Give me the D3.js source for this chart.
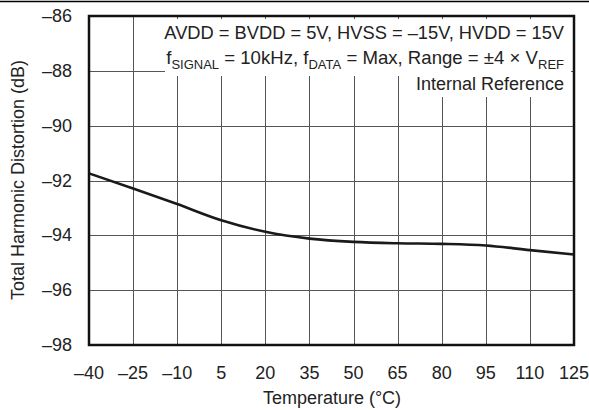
<!DOCTYPE html>
<html>
<head>
<meta charset="utf-8">
<script src="https://cdn.jsdelivr.net/npm/d3@7"></script>
<style>
  body { margin: 0; background: #fff; }
  svg { display: block; font-family: "Liberation Sans", Arial, sans-serif; }
</style>
</head>
<body>
<svg id="svg" width="589" height="410"></svg>
<script>
// temperature (°C) and THD (dB)
var temps = [-40, -25, -10, 5, 20, 35, 50, 65, 80, 95, 110, 125];
var thd = [-91.74, -92.29, -92.86, -93.45, -93.87, -94.12, -94.24, -94.29, -94.31, -94.37, -94.54, -94.70];
var xTicks = [-40, -25, -10, 5, 20, 35, 50, 65, 80, 95, 110, 125];
var yTicks = [-86, -88, -90, -92, -94, -96, -98];

var plotL = 89, plotR = 574, plotT = 16, plotB = 345;
var fs = 18;
var fmt = function(d) { return String(d).replace("-", "\u2013"); };

var svg = d3.select("svg");

var x = d3.scaleLinear().domain([-40, 125]).range([plotL, plotR]);
var y = d3.scaleLinear().domain([-98, -86]).range([plotB, plotT]);

// rule at the very top
svg.append("line")
    .attr("x1", 0).attr("x2", 589)
    .attr("y1", 1.5).attr("y2", 1.5)
    .attr("stroke", "#000").attr("stroke-width", 1.5);

// grid
svg.append("g").selectAll("line")
    .data(xTicks.slice(1, -1))
    .enter().append("line")
    .attr("x1", function(d) { return Math.round(x(d)) + 0.5; })
    .attr("x2", function(d) { return Math.round(x(d)) + 0.5; })
    .attr("y1", plotT).attr("y2", plotB)
    .attr("stroke", "#555").attr("stroke-width", 1);

svg.append("g").selectAll("line")
    .data(yTicks.slice(1, -1))
    .enter().append("line")
    .attr("y1", function(d) { return Math.round(y(d)) + 0.5; })
    .attr("y2", function(d) { return Math.round(y(d)) + 0.5; })
    .attr("x1", plotL).attr("x2", plotR)
    .attr("stroke", "#555").attr("stroke-width", 1);

// white boxes behind the conditions text
svg.append("rect").attr("x", 165).attr("y", 19).attr("width", plotR - 3 - 165).attr("height", 57).attr("fill", "#fff");
svg.append("rect").attr("x", 405).attr("y", 75).attr("width", plotR - 3 - 405).attr("height", 22).attr("fill", "#fff");

// curve
var line = d3.line()
    .x(function(d, i) { return x(temps[i]); })
    .y(function(d) { return y(d); })
    .curve(d3.curveMonotoneX);

svg.append("path")
    .datum(thd)
    .attr("d", line)
    .attr("fill", "none")
    .attr("stroke", "#1a1a1a")
    .attr("stroke-width", 2.6);

// frame
svg.append("rect")
    .attr("x", plotL).attr("y", plotT)
    .attr("width", plotR - plotL).attr("height", plotB - plotT)
    .attr("fill", "none").attr("stroke", "#111").attr("stroke-width", 2.5);

// tick labels
svg.append("g").selectAll("text")
    .data(yTicks)
    .enter().append("text")
    .attr("x", 72)
    .attr("y", function(d) { return y(d) + 6; })
    .attr("text-anchor", "end")
    .attr("font-size", fs)
    .attr("fill", "#222")
    .text(fmt);

svg.append("g").selectAll("text")
    .data(xTicks)
    .enter().append("text")
    .attr("x", function(d) { return x(d); })
    .attr("y", 379)
    .attr("text-anchor", "middle")
    .attr("font-size", fs)
    .attr("fill", "#222")
    .text(fmt);

// axis titles
svg.append("text")
    .attr("x", 332).attr("y", 404)
    .attr("text-anchor", "middle")
    .attr("font-size", fs)
    .attr("fill", "#222")
    .text("Temperature (\u00B0C)");

svg.append("text")
    .attr("transform", "translate(24,180) rotate(-90)")
    .attr("text-anchor", "middle")
    .attr("font-size", fs)
    .attr("fill", "#222")
    .text("Total Harmonic Distortion (dB)");

// conditions
var cx = 564;
svg.append("text")
    .attr("x", cx).attr("y", 39)
    .attr("text-anchor", "end")
    .attr("font-size", 18.3)
    .attr("fill", "#222")
    .text("AVDD = BVDD = 5V, HVSS = \u201315V, HVDD = 15V");

var t2 = svg.append("text")
    .attr("x", cx).attr("y", 64)
    .attr("text-anchor", "end")
    .attr("font-size", 18.6)
    .attr("fill", "#222");
var parts = [["f", false], ["SIGNAL", true], [" = 10kHz, f", false], ["DATA", true],
             [" = Max, Range = \u00B14 \u00D7 V", false], ["REF", true]];
var shifted = false;
parts.forEach(function(p) {
    var ts = t2.append("tspan").text(p[0]);
    if (p[1]) {
        ts.attr("font-size", 13).attr("dy", shifted ? 0 : 5);
        shifted = true;
    } else if (shifted) {
        ts.attr("dy", -5);
        shifted = false;
    }
});

svg.append("text")
    .attr("x", cx).attr("y", 90)
    .attr("text-anchor", "end")
    .attr("font-size", fs)
    .attr("fill", "#222")
    .text("Internal Reference");
</script>
</body>
</html>
